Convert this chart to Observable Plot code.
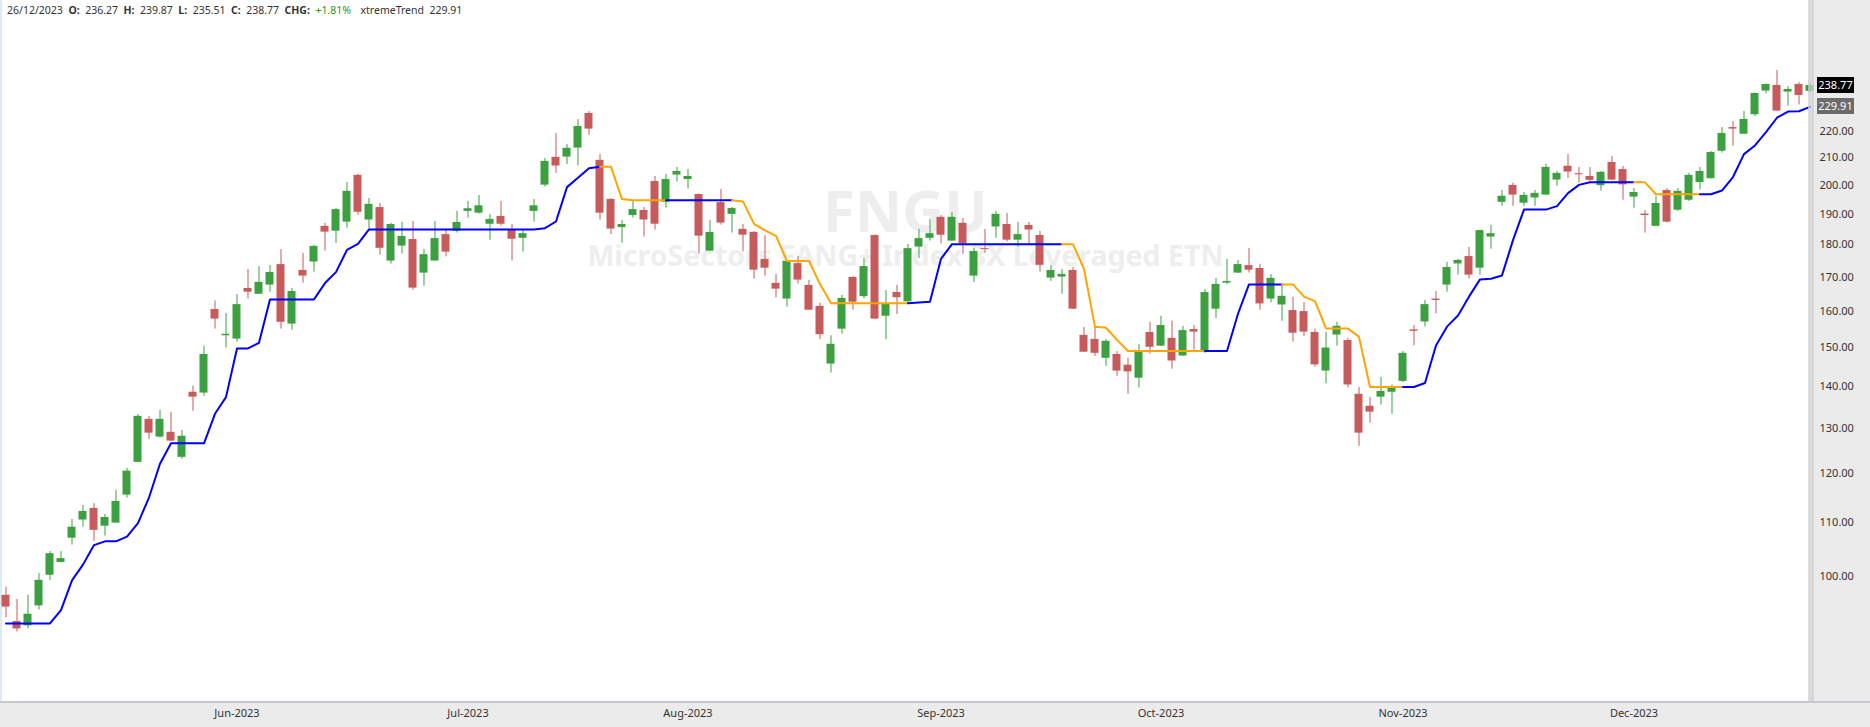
<!DOCTYPE html>
<html>
<head>
<meta charset="utf-8">
<script src="https://cdn.jsdelivr.net/npm/d3@7"></script>
<script src="https://cdn.jsdelivr.net/npm/@observablehq/plot@0.6"></script>
<style>
html,body{margin:0;padding:0;background:#fff;}
#wrap{position:relative;width:1870px;height:727px;overflow:hidden;font-family:"Noto Sans",sans-serif;}
#wrap svg{position:absolute;left:0;top:0;z-index:1;}
.bg{position:absolute;z-index:0;}
.over{position:absolute;z-index:2;}
#header{position:absolute;left:7px;top:2px;z-index:3;font-size:10.5px;color:#333;white-space:nowrap;line-height:16px;}
#header span{margin-right:5.5px;}
#header b{font-weight:700;}
.plabel{position:absolute;z-index:3;left:1817px;width:37px;height:16px;line-height:16px;font-size:11px;color:#fff;text-align:center;}
</style>
</head>
<body>
<div id="wrap">
  <div class="bg" style="left:0;top:701px;width:1870px;height:26px;background:#ebebeb;border-top:2px solid #c6cace;box-sizing:border-box;"></div>
  <div class="bg" style="left:1812px;top:0;width:58px;height:701px;background:#ebebeb;"></div>
  <div class="bg" style="left:0;top:0;width:2px;height:701px;background:#dcebf6;"></div>
  <div class="over" style="left:1808px;top:0;width:6px;height:701px;background:rgba(205,205,205,0.75);"></div>
  <div id="header"></div>
</div>
<script>
// ---- data (trading days 2 May 2023 .. 26 Dec 2023) ----
const openP = [96.7,92.3,91.6,94.9,100.2,102.5,107.0,110.5,112.8,109.3,
 109.9,115.5,122.4,132.1,128.0,129.1,123.5,138.6,138.4,160.5,
 153.2,152.3,166.6,164.9,167.6,173.8,156.4,172.0,174.6,186.0,
 184.4,187.4,203.6,188.1,192.3,174.9,179.6,181.7,171.2,174.9,
 183.3,184.4,191.0,190.4,186.7,189.3,184.9,182.1,191.0,200.1,
 210.2,210.3,213.7,227.2,209.1,195.1,185.6,189.6,191.3,201.4,
 194.1,203.7,202.1,196.8,178.0,194.0,190.0,185.0,184.0,175.4,
 168.1,163.5,174.1,167.5,161.4,145.7,155.0,169.9,164.2,183.0,
 158.6,165.4,162.7,179.3,182.1,189.0,181.2,187.0,170.3,178.8,
 185.8,186.6,181.5,186.3,183.0,169.7,170.0,172.0,153.3,152.2,
 147.2,148.2,145.4,142.1,154.1,150.4,152.5,147.8,154.9,148.8,
 160.6,168.2,171.2,173.5,172.6,163.5,161.8,160.2,159.9,154.1,
 143.9,153.4,151.9,138.1,135.2,137.4,138.6,141.3,154.8,157.0,
 163.5,167.6,174.0,176.3,172.7,182.5,194.1,200.0,193.8,195.6,
 196.6,201.9,206.9,204.2,203.2,199.9,208.3,205.7,195.9,190.1,
 186.0,198.2,191.4,194.8,201.0,202.4,212.5,221.6,219.0,226.7,
 236.4,238.8,236.0,239.2,236.27];
const highP = [98.1,96.0,96.7,100.5,104.5,104.5,110.6,113.4,113.8,111.6,
 116.5,121.1,133.2,132.8,134.2,133.7,129.5,140.1,150.4,163.0,
 159.4,164.8,172.3,173.2,173.5,178.5,166.6,177.3,179.8,187.0,
 192.0,201.0,204.0,195.4,193.7,187.0,187.3,187.6,178.5,187.6,
 184.7,191.0,194.4,196.5,189.9,194.4,186.6,184.7,195.1,209.8,
 219.3,215.0,224.8,228.0,211.3,195.4,188.0,194.4,192.3,203.2,
 203.9,206.5,205.7,197.0,188.0,198.6,192.3,186.6,184.3,183.0,
 170.8,174.9,176.3,169.0,162.3,153.2,164.6,170.1,175.7,183.2,
 166.0,167.5,180.1,185.0,188.3,189.6,190.6,188.6,178.8,185.0,
 191.0,190.3,187.3,187.3,184.3,173.5,172.3,172.9,155.5,155.5,
 152.2,149.0,147.2,150.8,156.9,158.6,157.2,155.8,156.0,166.3,
 169.6,175.4,175.1,178.8,173.8,170.8,167.8,164.0,162.5,155.0,
 154.1,156.9,152.5,139.8,137.3,142.3,140.4,149.0,156.0,163.1,
 165.7,174.5,175.4,179.2,184.8,186.3,198.2,200.8,197.5,198.2,
 207.6,205.0,211.3,206.5,206.5,205.0,210.5,206.9,198.9,191.3,
 196.2,198.9,198.9,204.3,206.5,212.4,221.6,224.0,228.0,235.6,
 239.4,245.2,238.3,240.0,239.87];
const lowP = [92.9,90.6,91.1,94.2,99.3,102.4,105.7,109.1,106.4,107.4,
 109.9,114.9,122.4,127.5,127.8,127.0,123.1,134.0,137.6,155.0,
 149.9,151.5,163.5,164.9,165.5,155.0,154.7,168.2,171.5,178.0,
 180.5,185.4,189.7,185.1,176.7,174.0,177.1,166.1,167.3,174.9,
 176.2,183.8,188.7,190.1,181.5,186.1,174.9,177.7,187.4,199.4,
 204.4,207.5,207.1,218.6,188.1,183.3,180.5,188.7,182.5,184.8,
 192.1,201.2,198.7,177.1,178.0,186.4,183.8,177.7,169.4,170.3,
 163.8,161.2,167.9,160.2,152.1,143.4,153.6,160.3,163.6,157.7,
 152.1,159.1,162.6,175.7,181.2,180.3,181.1,177.0,168.4,177.3,
 182.1,180.9,179.3,180.3,171.5,168.7,164.9,160.5,148.7,147.7,
 145.1,142.6,138.1,139.7,148.3,150.3,144.4,147.7,149.3,148.5,
 158.0,167.8,171.1,171.2,160.3,162.4,157.2,151.5,153.0,144.9,
 140.7,150.4,139.7,125.9,131.2,135.5,133.3,141.0,150.5,155.6,
 159.3,165.5,170.6,169.4,170.6,178.6,192.7,192.7,192.7,192.7,
 196.5,199.7,202.5,200.8,201.4,198.0,201.8,194.8,192.1,183.8,
 185.9,187.1,191.0,194.4,198.4,202.3,211.8,214.4,218.9,226.0,
 235.2,228.1,230.2,230.7,235.51];
const closeP = [94.7,91.1,93.5,99.3,104.1,103.2,109.1,112.2,108.5,111.0,
 114.2,120.5,132.8,128.9,132.1,127.1,128.2,137.4,148.2,157.8,
 153.6,161.9,165.5,168.4,171.4,156.9,165.7,170.3,179.5,184.1,
 191.6,197.9,190.7,193.4,178.9,186.6,182.7,166.7,176.9,182.0,
 177.7,187.3,191.9,192.9,188.3,186.7,181.8,183.6,192.9,208.7,
 207.0,213.6,222.0,221.0,190.4,185.1,186.6,191.6,188.1,186.7,
 202.1,205.0,203.2,182.8,184.0,187.1,192.0,183.1,172.1,172.7,
 166.4,174.8,169.1,160.3,153.5,150.9,163.7,162.6,173.2,157.8,
 162.0,163.9,178.8,182.0,183.6,183.1,189.0,180.4,177.9,178.5,
 190.0,181.5,183.3,184.8,173.6,172.0,170.8,160.6,148.8,148.5,
 151.7,143.9,143.7,149.0,150.1,156.0,146.5,154.6,154.2,165.4,
 167.8,168.7,173.8,172.1,162.1,169.6,164.3,153.9,154.2,145.5,
 149.9,155.8,140.4,128.9,133.8,138.8,139.6,148.5,154.4,161.9,
 163.1,172.9,175.1,170.6,184.6,183.6,196.2,196.6,196.5,197.2,
 206.5,204.3,204.8,203.8,201.8,204.7,201.9,200.2,197.5,189.6,
 193.7,187.4,197.9,203.6,205.0,212.0,219.3,221.0,224.8,235.4,
 239.2,228.2,237.1,234.6,238.77];
// xtremeTrend line
const trendP = [92.0,92.0,92.0,92.0,92.0,94.2,99.3,102.1,105.7,106.4,
 106.4,107.3,109.9,115.0,122.1,126.6,126.6,126.6,126.6,133.4,
 137.4,149.8,149.8,151.3,163.4,163.4,163.4,163.4,163.4,168.2,
 171.5,178.4,180.3,185.0,185.0,185.0,185.0,185.0,185.0,185.0,
 185.0,185.0,185.0,185.0,185.0,185.0,185.0,185.0,185.0,185.4,
 187.6,199.4,202.7,206.2,206.7,206.7,195.2,194.8,194.8,194.8,
 194.8,194.8,194.8,194.8,194.8,194.8,194.8,194.4,186.8,184.7,
 182.9,174.9,174.9,174.9,167.9,162.3,162.3,162.3,162.3,162.3,
 162.3,162.3,162.3,162.5,162.7,175.6,180.2,180.2,180.2,180.2,
 180.2,180.2,180.2,180.2,180.2,180.2,180.2,180.2,172.5,155.7,
 155.4,152.1,149.1,149.1,149.1,149.1,149.1,149.1,149.1,149.1,
 149.1,149.1,159.3,167.8,167.8,167.8,167.8,167.8,164.2,162.9,
 155.2,155.2,155.2,152.9,139.9,139.9,139.9,139.9,139.9,140.9,
 150.6,155.7,158.8,164.2,169.3,169.5,170.5,181.5,191.6,191.6,
 191.6,192.8,197.3,200.2,201.1,201.1,201.1,201.1,201.1,201.1,
 196.9,196.9,196.9,196.9,196.9,196.9,198.2,203.0,211.4,214.7,
 219.8,225.5,228.0,228.1,229.91];
// index ranges where the trend line is drawn in orange (down trend)
const downRuns = [[54,60],[66,82],[96,109],[116,127],[148,154]];
const monthTickIdx = [21,42,62,85,105,127,148];
const monthLabels = ["Jun-2023","Jul-2023","Aug-2023","Sep-2023","Oct-2023","Nov-2023","Dec-2023"];
const yTicks = [100,110,120,130,140,150,160,170,180,190,200,210,220];
const lastDate = "26/12/2023";
const lastChange = "+1.81%";
const symbol = "FNGU";
const symbolName = "MicroSectors FANG+ Index 3X Leveraged ETN";

// ---- build tables ----
const GREEN = "#3c9f40", RED = "#c75b5b", BLUE = "#0000ff", ORANGE = "#ffa500";
const candles = openP.map((o, i) => ({
  i, open: o, high: highP[i], low: lowP[i], close: closeP[i],
  col: closeP[i] >= o ? GREEN : RED
}));
const isDown = k => downRuns.some(([a, b]) => k > a && k <= b);
const trendPts = [];
let seg = 0, prevDown = null;
for (let k = 1; k < trendP.length; k++) {
  const d = isDown(k);
  if (d !== prevDown) {
    seg++;
    trendPts.push({i: k - 1, v: trendP[k - 1], seg, col: d ? ORANGE : BLUE});
    prevDown = d;
  }
  trendPts.push({i: k, v: trendP[k], seg, col: d ? ORANGE : BLUE});
}
const last = candles.length - 1;

const chart = Plot.plot({
  width: 1870, height: 727,
  marginLeft: 0, marginRight: 60, marginTop: 0, marginBottom: 26,
  style: {background: "transparent", fontFamily: "'Noto Sans', sans-serif", color: "#333"},
  x: {type: "linear", domain: [0, last], range: [5.5, 5.5 + 11 * last], label: null},
  y: {type: "log", domain: [80.1, 277.6], range: [701, 0], label: null},
  color: {type: "identity"},
  marks: [
    Plot.text([symbol], {frameAnchor: "top", lineAnchor: "top", dy: 190, fontSize: 58, fontWeight: "bold", fill: "#eeeeee"}),
    Plot.text([symbolName], {frameAnchor: "top", lineAnchor: "top", dy: 245, fontSize: 28.5, fontWeight: "bold", fill: "#eeeeee"}),
    Plot.ruleX(candles, {x: "i", y1: "low", y2: "high", stroke: "col", strokeWidth: 1}),
    Plot.rect(candles, {x1: d => d.i - 0.364, x2: d => d.i + 0.364, y1: "open", y2: "close", fill: "col"}),
    Plot.line(trendPts, {x: "i", y: "v", z: "seg", stroke: "col", strokeWidth: 2}),
    Plot.axisX({ticks: monthTickIdx, tickFormat: d => monthLabels[monthTickIdx.indexOf(d)], tickSize: 0, tickPadding: 8, fontSize: 11, fill: "#333", label: null}),
    Plot.axisY({anchor: "right", ticks: yTicks, tickFormat: d => d.toFixed(2), tickSize: 0, tickPadding: 9, fontSize: 11, fill: "#333", label: null})
  ]
});
const wrap = document.getElementById("wrap");
wrap.appendChild(chart);

const yS = chart.scale("y");
function priceLabel(v, bg) {
  const el = document.createElement("div");
  el.className = "plabel";
  el.style.background = bg;
  el.style.top = (yS.apply(v) - 8) + "px";
  el.textContent = v.toFixed(2);
  wrap.appendChild(el);
}
priceLabel(closeP[last], "#000");
priceLabel(trendP[last], "#6b6b6b");

const headerItems = [
  lastDate, "<b>O:</b>", openP[last].toFixed(2), "<b>H:</b>", highP[last].toFixed(2),
  "<b>L:</b>", lowP[last].toFixed(2), "<b>C:</b>", closeP[last].toFixed(2), "<b>CHG:</b>",
  `<span style="color:#1e9a1e;margin-right:4px">${lastChange}</span>`, "xtremeTrend", trendP[last].toFixed(2)
];
document.getElementById("header").innerHTML = headerItems.map(s => `<span>${s}</span>`).join("");
</script>
</body>
</html>
